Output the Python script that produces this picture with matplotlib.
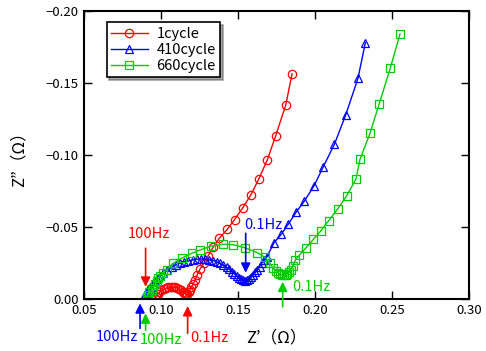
import matplotlib
matplotlib.use("Agg")
import matplotlib.pyplot as plt

plt.rcParams['font.family'] = ['Noto Sans CJK JP', 'DejaVu Sans']
plt.rcParams['axes.unicode_minus'] = True

# 1cycle
x1 = [0.0960, 0.0968, 0.0978, 0.0990, 0.1003, 0.1018, 0.1033, 0.1048, 0.1063, 0.1078,
      0.1092, 0.1106, 0.1119, 0.1131, 0.1141, 0.1150, 0.1158, 0.1165, 0.1172, 0.1180,
      0.1188, 0.1198, 0.1210, 0.1222, 0.1235, 0.1253, 0.1279, 0.1307, 0.1340, 0.1379,
      0.1430, 0.1478, 0.1530, 0.1584, 0.1634, 0.1690, 0.1745, 0.1810, 0.1851]
y1 = [-0.0005, -0.0018, -0.0032, -0.0045, -0.0057, -0.0066, -0.0073, -0.0078, -0.0080, -0.0080,
      -0.0078, -0.0074, -0.0067, -0.0058, -0.0049, -0.0040, -0.0033, -0.0030, -0.0034, -0.0045,
      -0.0060, -0.0080, -0.0105, -0.0130, -0.0165, -0.0205, -0.0250, -0.0300, -0.0360, -0.0420,
      -0.0482, -0.0550, -0.0630, -0.0722, -0.0829, -0.0963, -0.1132, -0.1345, -0.1561]

# 410cycle
x2 = [0.0885, 0.0893, 0.0900, 0.0908, 0.0917, 0.0929, 0.0945, 0.0960, 0.0975, 0.0995,
      0.1015, 0.1040, 0.1070, 0.1095, 0.1123, 0.1150, 0.1177, 0.1205, 0.1232, 0.1259,
      0.1286, 0.1313, 0.1340, 0.1362, 0.1383, 0.1405, 0.1427, 0.1444, 0.1459, 0.1475,
      0.1491, 0.1505, 0.1519, 0.1532, 0.1545, 0.1559, 0.1573, 0.1586, 0.1599, 0.1612,
      0.1625, 0.1640, 0.1654, 0.1670, 0.1686, 0.1734, 0.1781, 0.1827, 0.1877, 0.1931,
      0.1994, 0.2054, 0.2126, 0.2199, 0.2279, 0.2327]
y2 = [-0.0005, -0.0020, -0.0035, -0.0050, -0.0065, -0.0083, -0.0105, -0.0125, -0.0140, -0.0160,
      -0.0176, -0.0198, -0.0218, -0.0234, -0.0246, -0.0256, -0.0262, -0.0268, -0.0274, -0.0276,
      -0.0274, -0.0270, -0.0264, -0.0256, -0.0246, -0.0232, -0.0218, -0.0203, -0.0188, -0.0173,
      -0.0158, -0.0146, -0.0135, -0.0128, -0.0125, -0.0128, -0.0135, -0.0150, -0.0165, -0.0182,
      -0.0199, -0.0222, -0.0246, -0.0266, -0.0287, -0.0389, -0.0447, -0.0519, -0.0600, -0.0678,
      -0.0785, -0.0917, -0.1072, -0.1275, -0.1530, -0.1778]

# 660cycle
x3 = [0.0907, 0.0915, 0.0925, 0.0940, 0.0950, 0.0961, 0.0972, 0.0983, 0.0995, 0.1010,
      0.1037, 0.1080, 0.1134, 0.1199, 0.1253, 0.1325, 0.1400, 0.1470, 0.1545, 0.1625,
      0.1675, 0.1708, 0.1729, 0.1745, 0.1760, 0.1773, 0.1786, 0.1799, 0.1810, 0.1821,
      0.1832, 0.1843, 0.1856, 0.1873, 0.1899, 0.1942, 0.1989, 0.2037, 0.2089, 0.2147,
      0.2206, 0.2266, 0.2292, 0.2357, 0.2416, 0.2489, 0.2552]
y3 = [-0.0010, -0.0025, -0.0045, -0.0060, -0.0075, -0.0100, -0.0120, -0.0142, -0.0160, -0.0180,
      -0.0199, -0.0246, -0.0281, -0.0315, -0.0338, -0.0365, -0.0378, -0.0375, -0.0354, -0.0320,
      -0.0287, -0.0246, -0.0211, -0.0195, -0.0180, -0.0170, -0.0165, -0.0165, -0.0168, -0.0175,
      -0.0185, -0.0200, -0.0225, -0.0269, -0.0303, -0.0354, -0.0412, -0.0470, -0.0542, -0.0623,
      -0.0715, -0.0831, -0.0968, -0.1148, -0.1350, -0.1602, -0.1838]

labels = ["1cycle", "410cycle", "660cycle"]
colors = ["#ff0000", "#0000ff", "#00cc00"]
markers = ["o", "^", "s"]

fig = plt.figure(figsize=(4.86, 3.51), dpi=100)
ax = fig.add_axes([84/486, 1 - 298.7/351, (469-84)/486, (298.7-10.7)/351])

for xs, ys, lab, c, m, ms in zip([x1, x2, x3], [y1, y2, y3], labels, colors, markers, [6.0, 5.8, 5.2]):
    ax.plot(xs, ys, color=c, lw=1.0, marker=m, ms=ms, mfc='none', mec=c, mew=0.9, label=lab)

ax.set_xlim(0.05, 0.30)
ax.set_ylim(0.0, -0.20)
ax.set_xticks([0.05, 0.10, 0.15, 0.20, 0.25, 0.30])
ax.set_yticks([0.0, -0.05, -0.10, -0.15, -0.20])
ax.set_xticklabels(["0.05", "0.10", "0.15", "0.20", "0.25", "0.30"])
ax.set_yticklabels(["0.00", "\u22120.05", "\u22120.10", "\u22120.15", "\u22120.20"])
ax.tick_params(direction='in', length=6, width=1, top=True, right=True, labelsize=9.5, pad=4)
for s in ax.spines.values():
    s.set_linewidth(1.5)

ax.set_xlabel("Z\u2019\uff08\u03a9\uff09", fontsize=12, labelpad=9)
ax.set_ylabel("Z\u201d\uff08\u03a9\uff09", fontsize=12, labelpad=13)

leg = ax.legend(loc='upper left', bbox_to_anchor=(0.04, 0.985), fontsize=10.5, frameon=True,
                fancybox=False, shadow=True, edgecolor='black', handlelength=2.5,
                borderpad=0.3, labelspacing=0.15, handletextpad=0.6)
leg.get_frame().set_linewidth(1.2)

def arrow(x, y_tail, y_tip, c):
    ax.annotate("", xy=(x, y_tip), xytext=(x, y_tail), annotation_clip=False,
                arrowprops=dict(arrowstyle='-|>', color=c, lw=1.2, mutation_scale=14,
                                shrinkA=0, shrinkB=0))

arrow(0.0900, -0.035, -0.0083, colors[0])
ax.text(0.0924, -0.045, "100Hz", color=colors[0], fontsize=10.5, ha='center', va='center')
arrow(0.1173, 0.024, 0.0051, colors[0])
ax.text(0.1314, 0.0275, "0.1Hz", color=colors[0], fontsize=10.5, ha='center', va='center', clip_on=False)

arrow(0.0864, 0.0206, 0.0032, colors[1])
ax.text(0.0712, 0.0269, "100Hz", color=colors[1], fontsize=10.5, ha='center', va='center', clip_on=False)
arrow(0.1550, -0.0454, -0.0180, colors[1])
ax.text(0.1665, -0.0512, "0.1Hz", color=colors[1], fontsize=10.5, ha='center', va='center')

arrow(0.0900, 0.0218, 0.0102, colors[2])
ax.text(0.1000, 0.0287, "100Hz", color=colors[2], fontsize=10.5, ha='center', va='center', clip_on=False)
arrow(0.1790, 0.0056, -0.0118, colors[2])
ax.text(0.1978, -0.0083, "0.1Hz", color=colors[2], fontsize=10.5, ha='center', va='center')

fig.savefig("out.png", dpi=100)
